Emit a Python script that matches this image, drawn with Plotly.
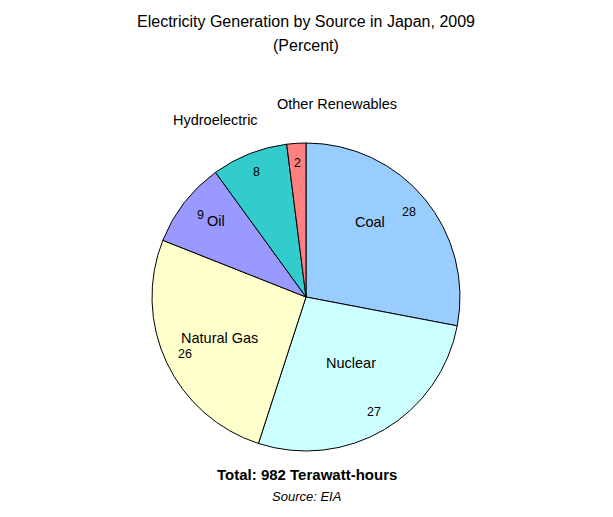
import math
import plotly.graph_objects as go

# ---- data ----
sources = ["Coal", "Nuclear", "Natural Gas", "Oil", "Hydroelectric", "Other Renewables"]
percents = [28, 27, 26, 9, 8, 2]
colors = ["#99CCFF", "#CCFFFF", "#FFFFCC", "#9999FF", "#33CCCC", "#FF8080"]
title_line1 = "Electricity Generation by Source in Japan, 2009"
title_line2 = "(Percent)"
total_text = "Total: 982 Terawatt-hours"
source_text = "Source: EIA"

# ---- label placement style (radius fraction, angle offset in degrees) ----
label_rfrac = [0.64, 0.52, 0.62, 0.765, 1.29, 1.27]
label_dang = [-9.9, -3.3, -0.3, 2.4, -5.4, 12.7]
number_rfrac = 0.87

W, H = 613, 517
FONT = "Arial, Liberation Sans, sans-serif"

cx, cy, R = 306, 297, 154
dom_x = [(cx - R) / W, (cx + R) / W]
dom_y = [1 - (cy + R) / H, 1 - (cy - R) / H]

fig = go.Figure(go.Pie(
    labels=sources,
    values=percents,
    sort=False,
    direction="clockwise",
    rotation=0,
    marker=dict(colors=colors, line=dict(color="black", width=1)),
    textinfo="none",
    hoverinfo="label+value",
    showlegend=False,
    domain=dict(x=dom_x, y=dom_y),
))

def to_paper(px, py):
    return px / W, 1 - py / H

annotations = []
total = sum(percents)
cum = 0.0
for i, (name, v) in enumerate(zip(sources, percents)):
    mid = (cum + v / 2) / total * 360.0
    cum += v
    # number
    a = math.radians(mid)
    px = cx + number_rfrac * R * math.sin(a)
    py = cy - number_rfrac * R * math.cos(a)
    x, y = to_paper(px, py)
    annotations.append(dict(x=x, y=y, xref="paper", yref="paper", text=str(v),
                            showarrow=False, xanchor="center", yanchor="middle",
                            font=dict(family=FONT, size=12.5, color="black")))
    # category label
    a = math.radians(mid + label_dang[i])
    px = cx + label_rfrac[i] * R * math.sin(a)
    py = cy - label_rfrac[i] * R * math.cos(a)
    x, y = to_paper(px, py)
    annotations.append(dict(x=x, y=y, xref="paper", yref="paper", text=name,
                            showarrow=False, xanchor="center", yanchor="middle",
                            font=dict(family=FONT, size=14.5, color="black")))

def add_text(text, px, py, size, bold=False, italic=False):
    t = text
    if bold:
        t = "<b>" + t + "</b>"
    if italic:
        t = "<i>" + t + "</i>"
    x, y = to_paper(px, py)
    annotations.append(dict(x=x, y=y, xref="paper", yref="paper", text=t,
                            showarrow=False, xanchor="center", yanchor="middle",
                            font=dict(family=FONT, size=size, color="black")))

add_text(title_line1, 306, 22, 16)
add_text(title_line2, 306, 45, 16)
add_text(total_text, 307, 474, 15, bold=True)
add_text(source_text, 307, 496, 13, italic=True)

fig.update_layout(
    width=W, height=H,
    margin=dict(l=0, r=0, t=0, b=0),
    paper_bgcolor="white",
    plot_bgcolor="white",
    annotations=annotations,
)

fig.write_html("out.html")
